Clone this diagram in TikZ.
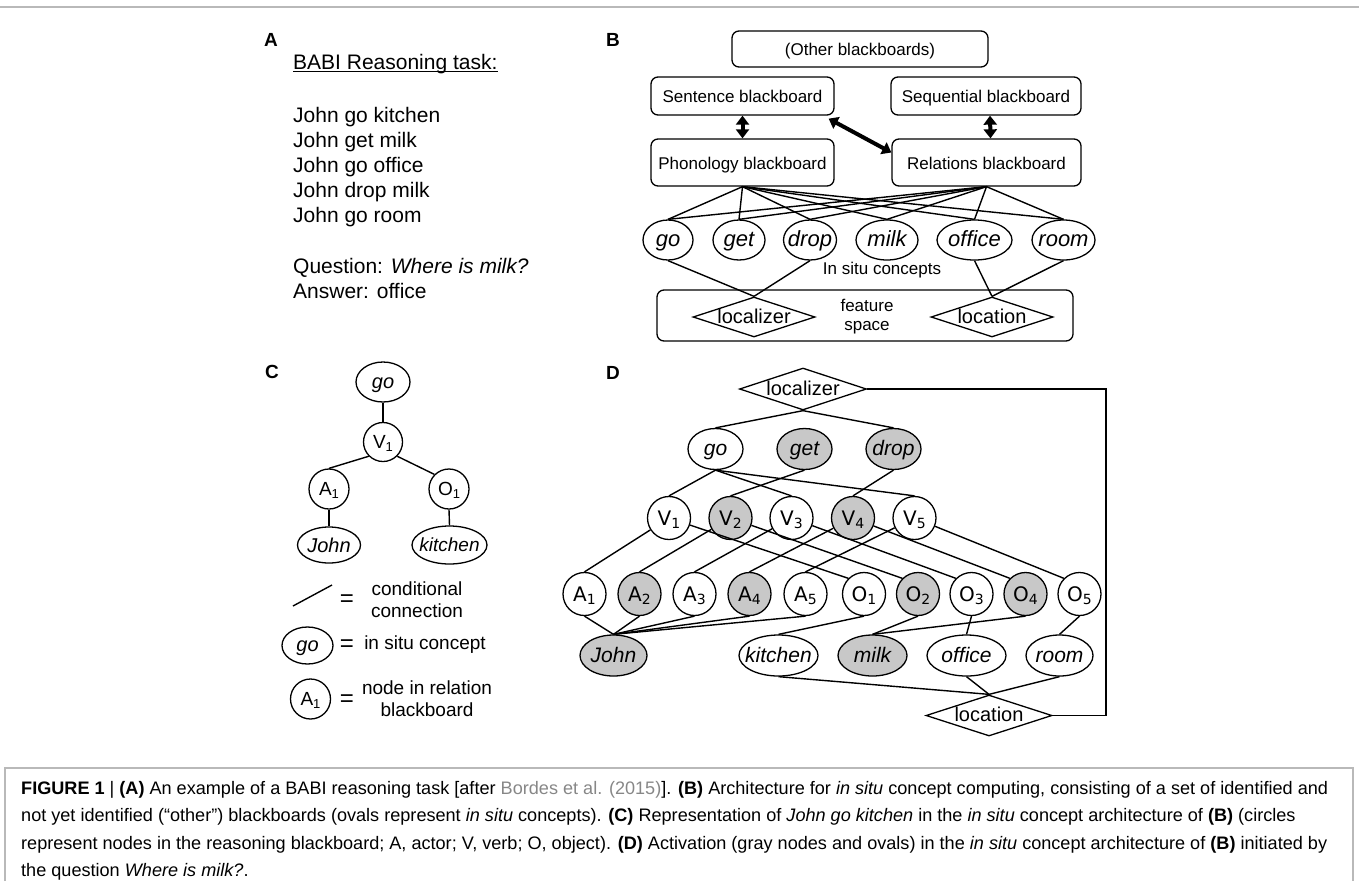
\documentclass[tikz,border=0pt]{standalone}
\usepackage{fontspec}
\setmainfont{Liberation Sans}
\newfontfamily\djv{DejaVu Sans}
\usetikzlibrary{shapes.geometric,arrows.meta}
\definecolor{ngray}{RGB}{200,200,200}
\definecolor{capgray}{RGB}{135,135,135}
\definecolor{framegray}{RGB}{185,185,185}
\newcommand{\fs}[1]{\fontsize{#1}{#1}\selectfont}
\newcommand{\et}[1]{\makebox[0pt]{\itshape #1}}
\newcommand{\cs}[2]{\makebox[0pt]{#1\raisebox{-3pt}{\fs{13}#2}}}
\newcommand{\ds}[2]{\makebox[0pt]{\djv #1\raisebox{-3pt}{\fs{14}#2}}}
\tikzset{
  ln/.style={line width=1.4pt},
  bbox/.style={draw, rounded corners=7pt, line width=1.3pt, inner sep=0pt, font=\fs{17}, text height=13pt, text depth=0pt},
  ell/.style={draw, ellipse, line width=1.3pt, inner sep=0pt, minimum height=40pt, text height=13pt, text depth=0pt},
  circ/.style={draw, circle, line width=1.3pt, inner sep=0pt, text height=14pt, text depth=0pt},
  dia/.style={draw, diamond, line width=1.3pt, inner sep=0pt, font=\fs{20}, text height=12.5pt, text depth=0pt},
  act/.style={fill=ngray},
  plbl/.style={font=\bfseries\fs{19}, inner sep=0pt},
  txt/.style={inner sep=0pt, anchor=base west},
  thick arrow/.style={line width=4pt, {Triangle[width=13pt,length=9pt]}-{Triangle[width=13pt,length=9pt]}},
  capl/.style={inner sep=0pt, anchor=base west, font=\fs{18.1}},
}
\begin{document}
\begin{tikzpicture}[x=1pt,y=-1pt]
\useasboundingbox (0,0) rectangle (1359,881);
\draw[framegray, line width=2pt] (0,6.5) -- (1359,6.5);
\draw[framegray, line width=1.2pt] (5,881) -- (5,768) -- (1353,768) -- (1353,881);

% ---------- Panel A ----------
\node[plbl] (la) at (271,40) {A};
\node[txt, font=\fs{21}] (babi) at (293,69) {BABI Reasoning task:};
\draw[line width=1pt] ([yshift=-2.5pt]babi.base west) -- ([yshift=-2.5pt]babi.base east);
\node[txt, font=\fs{21}] (a1) at (293,122) {John go kitchen};
\node[txt, font=\fs{21}] (a2) at (293,147) {John get milk};
\node[txt, font=\fs{21}] (a3) at (293,172) {John go office};
\node[txt, font=\fs{21}] (a4) at (293,197) {John drop milk};
\node[txt, font=\fs{21}] (a5) at (293,222) {John go room};
\node[txt, font=\fs{21}] (aq) at (293,273) {Question: \textit{Where is milk?}};
\node[txt, font=\fs{21}] (aa) at (293,298) {Answer: office};

% ---------- Panel B ----------
\node[plbl] (lb) at (613,40) {B};
\node[bbox, minimum width=256pt, minimum height=36pt] (other) at (860,49) {(Other blackboards)};
\node[bbox, minimum width=183pt, minimum height=38pt] (sent) at (742.5,96) {Sentence blackboard};
\node[bbox, minimum width=190pt, minimum height=38pt] (seq) at (986,96) {Sequential blackboard};
\node[bbox, minimum width=183pt, minimum height=47pt] (phon) at (742.5,162.5) {Phonology blackboard};
\node[bbox, minimum width=189pt, minimum height=47pt] (rel) at (986.5,162.5) {Relations blackboard};
\draw[thick arrow] (sent.south) -- (phon.north);
\draw[thick arrow] ([xshift=4pt]seq.south) -- ([xshift=4pt]rel.north);
\draw[thick arrow] ([xshift=-6pt,yshift=-3pt]sent.south east) -- ([yshift=10pt]rel.west);

\node[bbox, minimum width=416pt, minimum height=51pt] (feat) at (865,315.5) {};
\node[ell, minimum width=50pt, font=\fs{22}] (bgo) at (668,240) {\et{go}};
\node[ell, minimum width=52pt, font=\fs{22}] (bget) at (739,240) {\et{get}};
\node[ell, minimum width=53pt, font=\fs{22}] (bdrop) at (810,240) {\et{drop}};
\node[ell, minimum width=62pt, font=\fs{22}] (bmilk) at (887,240) {\et{milk}};
\node[ell, minimum width=75pt, font=\fs{22}] (boffice) at (974.5,240) {\et{office}};
\node[ell, minimum width=63pt, font=\fs{22}] (broom) at (1063.5,240) {\et{room}};
\node[inner sep=0pt, font=\fs{17}] (insitu) at (882,270) {In situ concepts};
\foreach \t in {bgo,bget,bdrop,bmilk,boffice,broom}{
  \draw[ln] (phon.south) -- (\t.north);
  \draw[ln] (rel.south) -- (\t.north);
}
\node[dia, minimum width=122pt, minimum height=40pt] (bloc) at (754,317) {\makebox[0pt]{localizer}};
\node[dia, minimum width=122pt, minimum height=40pt] (blocn) at (992,317) {\makebox[0pt]{location}};
\node[inner sep=0pt, font=\fs{17}, align=center] (fsp) at (867,317) {feature\\[2pt]space};
\draw[ln] (bgo.south) -- (bloc.north);
\draw[ln] (bdrop.south) -- (bloc.north);
\draw[ln] (boffice.south) -- (blocn.north);
\draw[ln] (broom.south) -- (blocn.north);

% ---------- Panel C ----------
\node[plbl] (lc) at (272,372) {C};
\node[ell, minimum width=54pt, minimum height=40pt, font=\fs{20}, text height=12pt] (cgo) at (383,382) {\et{go}};
\node[circ, minimum size=39pt, font=\fs{19}, text height=13.5pt] (cV) at (383,442) {\cs{V}{1}};
\node[circ, minimum size=40pt, font=\fs{19}, text height=13.5pt] (cA) at (329,489) {\cs{A}{1}};
\node[circ, minimum size=40pt, font=\fs{19}, text height=13.5pt] (cO) at (449,489) {\cs{O}{1}};
\node[ell, minimum width=63pt, minimum height=36pt, font=\fs{20}, text height=14pt] (cJohn) at (329,545) {\et{John}};
\node[ell, minimum width=75pt, minimum height=38pt, font=\fs{19}, text height=13.5pt] (ckit) at (449.5,545) {\et{kitchen}};
\draw[ln] (cgo.south) -- (cV.north);
\draw[ln] (cV.south west) -- (cA.north);
\draw[ln] (cV.south east) -- (cO.north west);
\draw[ln] (cA.south) -- (cJohn.north);
\draw[ln] (cO.south) -- (ckit.north);
% legend
\coordinate (lg1) at (293,606);
\coordinate (lg2) at (332,585);
\draw[ln] (lg1) -- (lg2);
\node[inner sep=0pt, font=\fs{24}] (eq1) at (347,601) {=};
\node[inner sep=0pt, font=\fs{19}, align=center] (lt1) at (417,600) {conditional\\[3pt]connection};
\node[ell, minimum width=51pt, minimum height=37pt, font=\fs{20}, text height=12pt] (lgo) at (307.5,645.5) {\et{go}};
\node[inner sep=0pt, font=\fs{24}] (eq2) at (347,646) {=};
\node[inner sep=0pt, font=\fs{19}] (lt2) at (425,645) {in situ concept};
\node[circ, minimum size=40pt, font=\fs{19}, text height=13.5pt] (lA) at (310.5,699) {\cs{A}{1}};
\node[inner sep=0pt, font=\fs{24}] (eq3) at (347,701) {=};
\node[inner sep=0pt, font=\fs{19}, align=center] (lt3) at (427,699) {node in relation\\[3pt]blackboard};

% ---------- Panel D ----------
\node[plbl] (ld) at (613,373) {D};
\node[dia, minimum width=127pt, minimum height=42pt] (dlz) at (803,389) {\makebox[0pt]{localizer}};
\node[dia, minimum width=126pt, minimum height=41pt] (dln) at (989,715.5) {\makebox[0pt]{location}};
\coordinate (c1) at (1106,389);
\coordinate (c2) at (1106,715.5);
\draw[ln] (dlz.east) -- (c1) -- (c2) -- (dln.east);

\node[ell, minimum width=55pt, minimum height=41pt, font=\fs{21}] (dgo) at (715.5,449) {\et{go}};
\node[ell, act, minimum width=55pt, minimum height=41pt, font=\fs{21}] (dget) at (804.5,449) {\et{get}};
\node[ell, act, minimum width=55pt, minimum height=41pt, font=\fs{21}] (ddrop) at (893.5,449) {\et{drop}};

\node[circ, minimum size=43pt, font=\fs{20}] (V1) at (669,518) {\ds{V}{1}};
\node[circ, act, minimum size=43pt, font=\fs{20}] (V2) at (730.5,518) {\ds{V}{2}};
\node[circ, minimum size=43pt, font=\fs{20}] (V3) at (791.5,518) {\ds{V}{3}};
\node[circ, act, minimum size=43pt, font=\fs{20}] (V4) at (853,518) {\ds{V}{4}};
\node[circ, minimum size=43pt, font=\fs{20}] (V5) at (914.5,518) {\ds{V}{5}};

\node[circ, minimum size=43pt, font=\fs{20}] (A1) at (584.5,594) {\ds{A}{1}};
\node[circ, act, minimum size=43pt, font=\fs{20}] (A2) at (639.5,594) {\ds{A}{2}};
\node[circ, minimum size=43pt, font=\fs{20}] (A3) at (694.5,594) {\ds{A}{3}};
\node[circ, act, minimum size=43pt, font=\fs{20}] (A4) at (749.5,594) {\ds{A}{4}};
\node[circ, minimum size=43pt, font=\fs{20}] (A5) at (805.5,594) {\ds{A}{5}};
\node[circ, minimum size=43pt, font=\fs{20}] (O1) at (864,594) {\ds{O}{1}};
\node[circ, act, minimum size=43pt, font=\fs{20}] (O2) at (918,594) {\ds{O}{2}};
\node[circ, minimum size=43pt, font=\fs{20}] (O3) at (971.5,594) {\ds{O}{3}};
\node[circ, act, minimum size=43pt, font=\fs{20}] (O4) at (1025.5,594) {\ds{O}{4}};
\node[circ, minimum size=43pt, font=\fs{20}] (O5) at (1079.5,594) {\ds{O}{5}};

\node[ell, act, minimum width=67pt, minimum height=41pt, font=\fs{21}, text height=14.5pt] (dJohn) at (613.5,655.5) {\et{John}};
\node[ell, minimum width=79pt, minimum height=41pt, font=\fs{21}, text height=14.5pt] (dkit) at (778.5,655.5) {\et{kitchen}};
\node[ell, act, minimum width=69pt, minimum height=41pt, font=\fs{21}, text height=14.5pt] (dmilk) at (872.5,655.5) {\et{milk}};
\node[ell, minimum width=79pt, minimum height=41pt, font=\fs{21}, text height=14.5pt] (doff) at (966.5,655.5) {\et{office}};
\node[ell, minimum width=67pt, minimum height=41pt, font=\fs{21}] (droom) at (1059.5,655.5) {\et{room}};

\draw[ln] (dlz.south) -- (dgo.north);
\draw[ln] (dlz.south) -- (ddrop.north);
\foreach \v in {V1,V3,V5}{\draw[ln] (dgo.south) -- (\v.north);}
\draw[ln] (dget.south) -- (V2.north);
\draw[ln] (ddrop.south) -- (V4.north);
\foreach \i in {1,...,5}{
  \draw[ln] (V\i) -- (A\i.north);
  \draw[ln] (V\i) -- (O\i.north west);
  \draw[ln] (A\i.south) -- (dJohn.north);
}
\draw[ln] (O1.south) -- (dkit.north);
\draw[ln] (O2.south) -- (dmilk.north);
\draw[ln] (O4.south) -- (dmilk.north);
\draw[ln] (O3.south) -- (doff.north);
\draw[ln] (O5.south) -- (droom.north);
\draw[ln] (dkit.south) -- (dln.north);
\draw[ln] (doff.south) -- (dln.north);
\draw[ln] (droom.south) -- (dln.north);

% ---------- Caption ----------
\node[capl] (cap1) at (21,794) {\textbf{FIGURE 1} \textbar{} \textbf{(A)} An example of a BABI reasoning task [after {\color{capgray}Bordes et al. (2015)}]. \textbf{(B)} Architecture for \textit{in situ} concept computing, consisting of a set of identified and};
\node[capl] (cap2) at (21,821.5) {not yet identified (“other”) blackboards (ovals represent \textit{in situ} concepts). \textbf{(C)} Representation of \textit{John go kitchen} in the \textit{in situ} concept architecture of \textbf{(B)} (circles};
\node[capl] (cap3) at (21,849) {represent nodes in the reasoning blackboard; A, actor; V, verb; O, object). \textbf{(D)} Activation (gray nodes and ovals) in the \textit{in situ} concept architecture of \textbf{(B)} initiated by};
\node[capl] (cap4) at (21,876.5) {the question \textit{Where is milk?}.};
\end{tikzpicture}
\end{document}
